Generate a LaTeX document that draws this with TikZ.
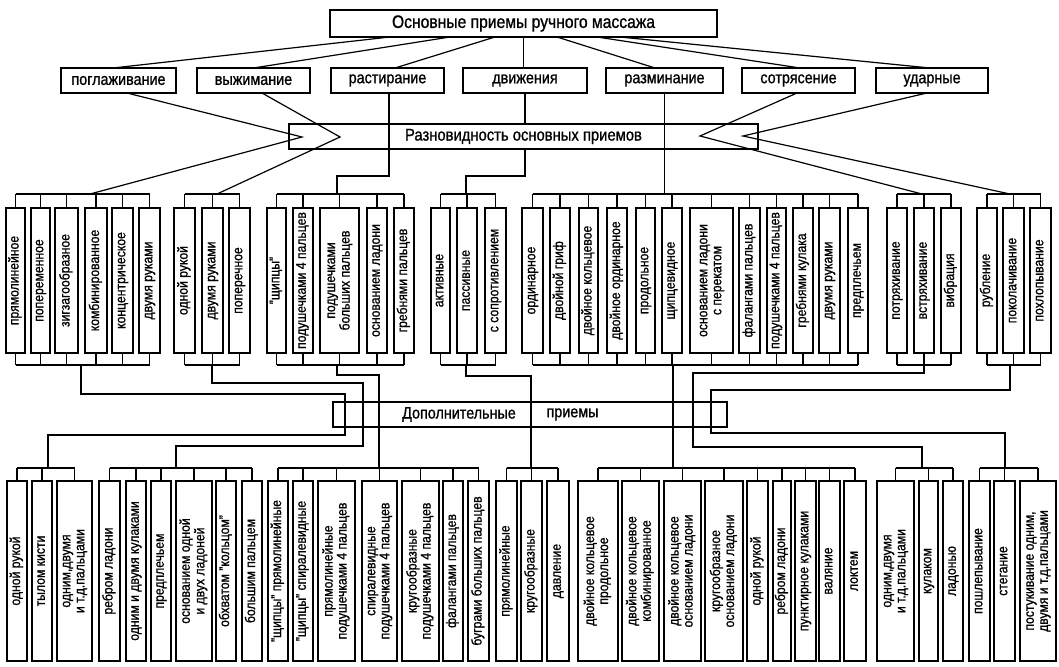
\documentclass[tikz,border=0pt]{standalone}
\usepackage{graphicx}
\usepackage{fontspec}
\setmainfont{Liberation Sans}[FakeStretch=0.87,FakeBold=1]
\newcommand\vfont{\fontsize{14}{14}\selectfont}
\newcommand\hfont{\fontsize{16.5}{18}\selectfont}
\tikzset{
  bx/.style={draw, line width=1.6pt, inner sep=0.5pt, outer sep=0pt},
  ln/.style={line width=1.2pt},
}
\newcommand\rowbox[4]{\node[bx,font=\vfont,minimum width={(#3-#2)*1pt},minimum height=145pt] (#1) at ({(#2+#3)/2},280.5) {\rotatebox{90}{\begin{tabular}{@{}c@{}}#4\end{tabular}}};}
\newcommand\lowbox[4]{\node[bx,font=\vfont,minimum width={(#3-#2)*1pt},minimum height=180pt] (#1) at ({(#2+#3)/2},571) {\rotatebox{90}{\begin{tabular}{@{}c@{}}#4\end{tabular}}};}
\newcommand\topbox[4]{\node[bx,line width=1.8pt,font=\hfont,minimum width={(#3-#2)*1pt},minimum height=25pt] (#1) at ({(#2+#3)/2},80.5) {#4};}
\begin{document}
\begin{tikzpicture}[x=1pt,y=-1pt]
\useasboundingbox (0,0) rectangle (1059,666);
\fill[white] (0,0) rectangle (1059,666);
% ---------- title and main kinds
\node[bx,line width=2.6pt,minimum width=387pt,minimum height=27pt,font=\fontsize{18}{20}\selectfont] (title) at (523.5,23.5) {Основные приемы ручного массажа};
\topbox{pog}{61}{176}{поглаживание}
\topbox{vyzh}{197}{310}{выжимание}
\topbox{rast}{331}{444}{растирание}
\topbox{dvizh}{463}{587}{движения}
\topbox{razm}{606}{723}{разминание}
\topbox{sotr}{742}{855}{сотрясение}
\topbox{udar}{876}{988}{ударные}
\node[bx,minimum width=469pt,minimum height=25pt,font=\fontsize{17}{19}\selectfont] (razn) at (523.5,136.5) {Разновидность основных приемов};
% ---------- row 3
\rowbox{r1}{6}{25}{прямолинейное}
\rowbox{r2}{31}{50}{попеременное}
\rowbox{r3}{55}{78}{зигзагообразное}
\rowbox{r4}{85}{107}{комбинированное}
\rowbox{r5}{112}{133}{концентрическое}
\rowbox{r6}{139}{160}{двумя руками}
\rowbox{r7}{174}{195}{одной рукой}
\rowbox{r8}{202}{223}{двумя руками}
\rowbox{r9}{229}{250}{поперечное}
\rowbox{r10}{267}{286}{"щипцы"}
\rowbox{r11}{293}{313}{подушечками 4 пальцев}
\rowbox{r12}{320}{359}{подушечками\\больших пальцев}
\rowbox{r13}{367}{387}{основанием ладони}
\rowbox{r14}{394}{414}{гребнями пальцев}
\rowbox{r15}{431}{450}{активные}
\rowbox{r16}{457}{477}{пассивные}
\rowbox{r17}{485}{506}{с сопротивлением}
\rowbox{r18}{522}{543}{ординарное}
\rowbox{r19}{550}{570}{двойной гриф}
\rowbox{r20}{579}{598}{двойное кольцевое}
\rowbox{r21}{607}{627}{двойное ординарное}
\rowbox{r22}{636}{655}{продольное}
\rowbox{r23}{662}{682}{щипцевидное}
\rowbox{r24}{690}{733}{основанием ладони\\с перекатом}
\rowbox{r25}{739}{760}{фалангами пальцев}
\rowbox{r26}{767}{786}{подушечками 4 пальцев}
\rowbox{r27}{793}{813}{гребнями кулака}
\rowbox{r28}{819}{840}{двумя руками}
\rowbox{r29}{848}{868}{предплечьем}
\rowbox{r30}{887}{907}{потряхивание}
\rowbox{r31}{914}{934}{встряхивание}
\rowbox{r32}{941}{961}{вибрация}
\rowbox{r33}{977}{997}{рубление}
\rowbox{r34}{1003}{1024}{поколачивание}
\rowbox{r35}{1030}{1051}{похлопывание}
% ---------- additional
\node[bx,minimum width=394pt,minimum height=25pt] (dop) at (530,414.5) {};
\draw[line width=2.8pt] (dop.north west) -- (dop.south west);
\draw[line width=2.8pt] (dop.north east) -- (dop.south east);
\node[font=\hfont] (dopA) at (459,414.5) {Дополнительные};
\node[font=\hfont] (dopB) at (572.5,414.5) {приемы};
% ---------- bottom row
\lowbox{q1}{7}{27}{одной рукой}
\lowbox{q2}{32}{52}{тылом кисти}
\lowbox{q3}{57}{92}{одним,двумя\\и т.д.пальцами}
\lowbox{q4}{99}{120}{ребром ладони}
\lowbox{q5}{126}{146}{одним и двумя кулаками}
\lowbox{q6}{151}{171}{предплечьем}
\lowbox{q7}{176}{212}{основанием одной\\и двух ладоней}
\lowbox{q8}{216}{236}{обхватом "кольцом"}
\lowbox{q9}{242}{262}{большим пальцем}
\lowbox{q10}{268}{288}{"щипцы" прямолинейные}
\lowbox{q11}{293}{313}{"щипцы" спиралевидные}
\lowbox{q12}{318}{355}{прямолинейные\\подушечками 4 пальцев}
\lowbox{q13}{362}{397}{спиралевидные\\подушечками 4 пальцев}
\lowbox{q14}{402}{439}{кругообразные\\подушечками 4 пальцев}
\lowbox{q15}{443}{463}{фалангами пальцев}
\lowbox{q16}{468}{489}{буграми больших пальцев}
\lowbox{q17}{496}{517}{прямолинейные}
\lowbox{q18}{521}{542}{кругообразные}
\lowbox{q19}{547}{569}{давление}
\lowbox{q20}{578}{618}{двойное кольцевое\\продольное}
\lowbox{q21}{622}{659}{двойное кольцевое\\комбинированное}
\lowbox{q22}{664}{701}{двойное кольцевое\\основанием ладони}
\lowbox{q23}{705}{743}{кругообразное\\основанием ладони}
\lowbox{q24}{747}{768}{одной рукой}
\lowbox{q25}{773}{791}{ребром ладони}
\lowbox{q26}{795}{816}{пунктирное кулаками}
\lowbox{q27}{819}{840}{валяние}
\lowbox{q28}{844}{866}{локтем}
\lowbox{q29}{877}{914}{одним,двумя\\и т.д.пальцами}
\lowbox{q30}{919}{938}{кулаком}
\lowbox{q31}{943}{963}{ладонью}
\lowbox{q32}{969}{990}{пошлепывание}
\lowbox{q33}{994}{1015}{стегание}
\lowbox{q34}{1020}{1056}{постукивание одним,\\двумя и т.д.пальцами}
% ---------- bus levels
\coordinate (tb) at (0,194);
\coordinate (bb) at (0,365);
\coordinate (lb) at (0,468);
% ---------- title to kinds
\draw[ln] ([xshift=-133.5pt]title.south) -- ([xshift=-5.5pt]pog.north);
\draw[ln] ([xshift=-73.5pt]title.south) -- (vyzh.north);
\draw[ln] ([xshift=-28.5pt]title.south) -- ([xshift=7.5pt]rast.north);
\draw[ln] (title.south) -- (title.south |- dvizh.north);
\draw[ln] ([xshift=33.5pt]title.south) -- ([xshift=-9.5pt]razm.north);
\draw[ln] ([xshift=73.5pt]title.south) -- ([xshift=1.5pt]sotr.north);
\draw[ln] ([xshift=96.5pt]title.south) -- ([xshift=-2pt]udar.north);
% ---------- kinds to varieties
\coordinate (tipA) at (302,137);
\coordinate (tipB) at (340,137);
\coordinate (tipC) at (700,136);
\coordinate (tipD) at (743,136);
\draw[ln] ([xshift=8.5pt]pog.south) -- (tipA) -- (90,194);
\draw[ln] ([xshift=8.5pt]vyzh.south) -- (tipB) -- (217,194);
\draw[ln] ([xshift=-1.5pt]sotr.south) -- (tipC) -- (922,194);
\draw[ln] ([xshift=-5pt]udar.south) -- (tipD) -- (1010,194);
\draw[ln] ([xshift=1.5pt]rast.south) |- (337,176) -- (337,194);
\draw[ln] (dvizh.south) -- (dvizh.south |- razn.north);
\draw[ln] (dvizh.south |- razn.south) |- (466,176) -- (466,194);
\draw[ln] (razm.south) -- (razm.south |- tb);
% ---------- row 3 buses
\foreach \i in {1,...,35} {
  \draw[ln] (r\i.north) -- (r\i.north |- tb);
  \draw[ln] (r\i.south) -- (r\i.south |- bb);
}
\foreach \a/\b in {1/6,7/9,10/14,15/17,18/29,30/32,33/35} {
  \draw[ln] (r\a.north |- tb) -- (r\b.north |- tb);
  \draw[ln] (r\a.south |- bb) -- (r\b.south |- bb);
}
% ---------- bottom row buses
\foreach \i in {1,...,34} {
  \draw[ln] (q\i.north) -- (q\i.north |- lb);
}
\foreach \a/\b in {1/3,4/9,10/16,17/19,20/28,29/31,32/34} {
  \draw[ln] (q\a.north |- lb) -- (q\b.north |- lb);
}
% ---------- varieties to additional techniques
\draw[ln] (81,365) -- (81,394) -- (345,394) -- (345,435) -- (48,435) -- (48,468);
\draw[ln] (212,365) -- (212,383) -- (363,383) -- (363,446) -- (176,446) -- (176,468);
\draw[ln] (337,365) -- (337,375) -- (379,375) -- (379,468);
\draw[ln] (466,365) -- (466,376) -- (531,376) -- (531,468);
\draw[ln] (673,365) -- (673,468);
\draw[ln] (924,365) -- (924,373) -- (693,373) -- (693,447) -- (922,447) -- (922,468);
\draw[ln] (1010,365) -- (1010,390) -- (711,390) -- (711,433) -- (1005,433) -- (1005,468);
\end{tikzpicture}
\end{document}
